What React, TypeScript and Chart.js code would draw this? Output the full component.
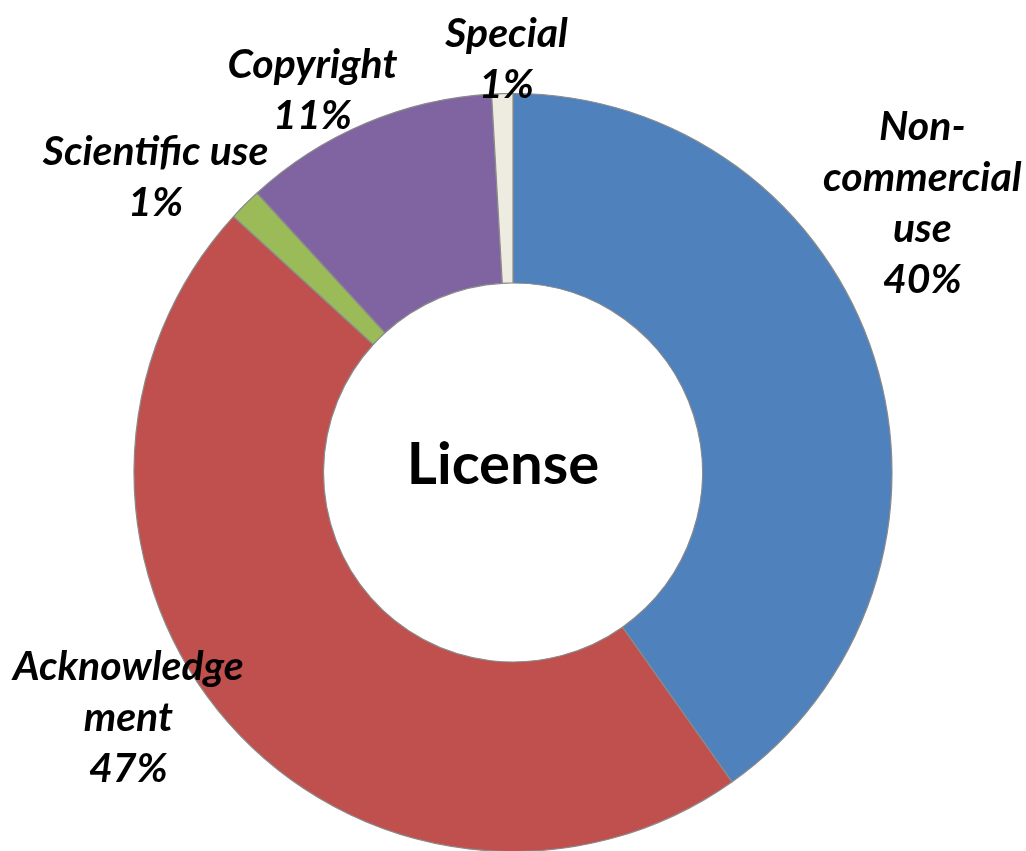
import React, { useEffect, useRef } from "react";
import { Chart, registerables } from "chart.js";

Chart.register(...registerables);

const categories = ["Non-commercial use", "Acknowledgement", "Scientific use", "Copyright", "Special"];
const labelLines = [["Non-", "commercial", "use"], ["Acknowledge", "ment"], ["Scientific use"], ["Copyright"], ["Special"]];
const shares = [40.2, 46.6, 1.4, 10.9, 0.9];
const colors = ["#4F81BD", "#C0504D", "#9BBB59", "#8064A2", "#EEECE1"];
const centerTitle = "License";

// label block centres, in units of the outer radius, relative to the chart centre
const labelOffsets = [
  [1.08, -0.71],
  [-1.015, 0.648],
  [-0.943, -0.78],
  [-0.529, -1.009],
  [-0.017, -1.091],
];

const labelFont = "italic bold 41px Lato";
const lineHeight = 51;

const labelsPlugin = {
  id: "excelLabels",
  afterDatasetsDraw(chart: any) {
    const { ctx } = chart;
    const meta = chart.getDatasetMeta(0);
    const arc0 = meta.data[0];
    if (!arc0) return;
    const cx = arc0.x;
    const cy = arc0.y;
    const R = arc0.outerRadius;
    const data = chart.data.datasets[0].data as number[];
    const total = data.reduce((a: number, b: number) => a + b, 0);
    ctx.save();
    ctx.fillStyle = "#000";
    ctx.textAlign = "center";
    ctx.textBaseline = "middle";
    ctx.font = labelFont;
    data.forEach((v: number, i: number) => {
      const lines = [...labelLines[i], Math.round((v / total) * 100) + "%"];
      const bx = cx + labelOffsets[i][0] * R;
      const by = cy + labelOffsets[i][1] * R;
      const startY = by - ((lines.length - 1) * lineHeight) / 2;
      lines.forEach((t, k) => ctx.fillText(t, bx, startY + k * lineHeight));
    });
    ctx.font = "bold 58px Lato";
    ctx.fillText(centerTitle, cx - 10, cy - 7);
    ctx.restore();
  },
};

export default function App() {
  const ref = useRef<HTMLCanvasElement | null>(null);
  useEffect(() => {
    if (!ref.current) return;
    const chart = new Chart(ref.current, {
      type: "doughnut",
      data: {
        labels: categories,
        datasets: [
          {
            data: shares,
            backgroundColor: colors,
            borderColor: "#8a8a8a",
            borderWidth: 1.2,
            borderAlign: "center",
          },
        ],
      },
      options: {
        responsive: false,
        animation: false,
        radius: 379,
        cutout: "50%",
        layout: { padding: { top: 94, bottom: 0, left: 0, right: 0 } },
        plugins: {
          legend: { display: false },
          tooltip: { enabled: false },
        },
      },
      plugins: [labelsPlugin],
    });
    return () => chart.destroy();
  }, []);
  return (
    <div style={{ position: "fixed", left: 0, top: 0, width: 1026, height: 851, background: "#fff" }}>
      <canvas ref={ref} width={1026} height={851} />
    </div>
  );
}
